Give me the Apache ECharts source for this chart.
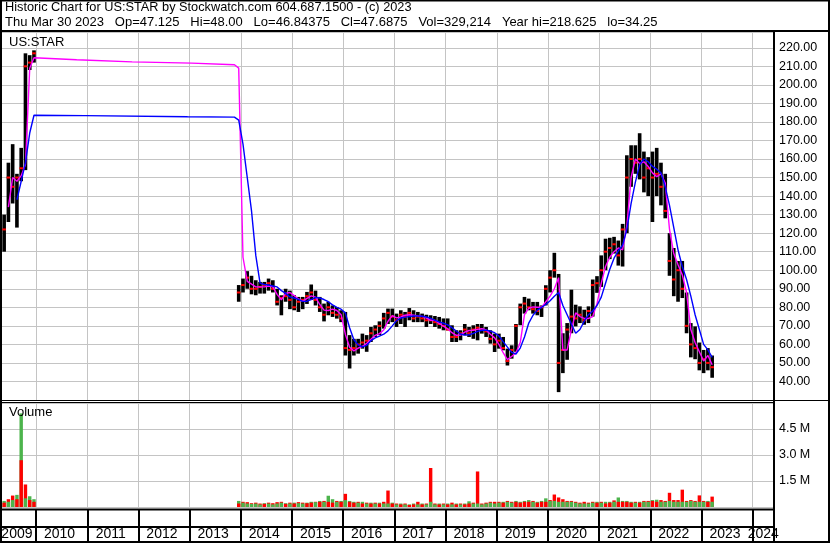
<!DOCTYPE html>
<html>
<head>
<meta charset="utf-8">
<title>Historic Chart for US:STAR</title>
<script src="https://cdn.jsdelivr.net/npm/echarts@6/dist/echarts.min.js"></script>
<style>
  html, body { margin: 0; padding: 0; background: #fff; }
  #chart { width: 830px; height: 543px; }
</style>
</head>
<body>
<div id="chart"></div>
<script>
// monthly price ranges
// first stretch of trading, May - Dec 2009
const lo09 = [110, 126, 136, 123, 148, 154, 208, 212]
const hi09 = [130, 158, 168, 152, 166, 217, 216, 218.6]
const cl09 = [122, 150, 145, 150, 155, 210, 212, 217]

// second stretch, Dec 2013 - Mar 2023
const lo = [
  83,
  88, 90, 87, 86.5, 87.4, 87.4, 89, 88, 81, 75.7, 83, 79,              // 2014
  78.4, 77.5, 79, 81.8, 84, 81, 77.5, 72.4, 75.7, 74.8, 73.9, 72,      // 2015
  54, 47, 54, 55, 57.7, 56, 61.3, 64, 65, 68.5, 71, 72,                // 2016
  69.4, 71, 69.4, 73, 72, 72, 72, 69.4, 71, 69.4, 68.5, 67.6,          // 2017
  67.6, 61.3, 61.3, 62.2, 64.9, 64, 63, 62.2, 65.8, 64, 60.4, 55.9,    // 2018
  57.7, 56.8, 48.6, 52.3, 56, 70.3, 76.6, 78.4, 76.6, 75.7, 74.8, 81,  // 2019
  88, 96, 34.25, 44.5, 51.7, 66, 69.7, 71.5, 70.6, 71.5, 75, 87.8,     // 2020
  91, 100, 106, 109, 102.5, 102, 120, 145, 152, 149, 142, 140,         // 2021
  126, 140, 135, 128, 97, 86, 83, 85, 66, 53, 52, 46,                  // 2022
  44.5, 46, 42                                                         // 2023
]
const hi = [
  92,
  95.5, 99.5, 97, 94.6, 93.7, 93.7, 95.5, 94.6, 90, 86.5, 90, 89,
  86.5, 85.6, 85.6, 88.3, 92.3, 89, 85.6, 82, 83, 81, 80.2, 78.4,
  77.5, 65, 63, 63, 65.8, 65, 69.4, 70.3, 72.4, 77, 79.3, 79.3,
  76.6, 78.4, 77.5, 79.6, 78.4, 77.5, 76.6, 76, 75.7, 75.3, 74.8, 74,
  74, 70.3, 67.6, 67.6, 71, 69.4, 70.3, 71, 71, 69.4, 67.6, 65.8,
  65.8, 64, 57.7, 59.5, 71, 82, 85.6, 84.7, 82.9, 82.9, 81, 91.9,
  100, 109.4, 98, 66, 71.5, 89.5, 81.4, 80.5, 78.7, 80.5, 95, 96.8,
  108, 117, 117.5, 118, 116, 125, 162, 167.4, 167.4, 173.9, 164, 161,
  164, 166, 158, 152, 120, 112, 105, 105, 88, 71.5, 69.7, 61,
  57, 58, 54
]
const cl = [
  88,
  92, 96, 90, 90, 91, 92, 93, 90, 83, 85, 86, 84,
  80, 83, 84, 86, 88, 84, 80, 76, 80, 77, 76, 74,
  58, 57, 58, 60, 61, 62, 66, 68, 70, 74, 77, 75,
  73, 76, 75, 77, 74, 75, 74, 73, 73, 72, 71, 70,
  68, 64, 64, 66, 68, 66, 68, 69, 68, 67, 63, 60,
  62, 58, 51, 57, 70, 80, 82, 80, 79, 78, 80, 90,
  96, 100, 50, 57, 68, 75, 74, 76, 73, 78, 92, 93,
  100, 110, 112, 114, 108, 122, 150, 160, 158, 160, 150, 155,
  150, 152, 145, 132, 105, 95, 100, 90, 70, 60, 58, 50,
  52, 50, 47.69
]

// moving averages (pink = short, blue = long)
const pink09 = [null, 134, 150, 148, 151, 157, 209, 214.6]
const blue09 = [null, null, null, 138, 148, 158, 174, 183.6]
const pinkGapMonths = ['2010-10', '2011-11', '2013-01', '2013-11']
const pinkGapVals = [213.5, 212.4, 211.7, 210.8]
const blueGapMonths = ['2010-12', '2012-12', '2013-11']
const blueGapVals = [183.4, 182.8, 182.6]
const pink = [
  209,
  107, 94, 92.5, 91, 91, 91, 91.5, 91, 87, 84, 87.5, 88,
  86.3, 84.5, 83.2, 84.8, 86.2, 85.5, 81.5, 78.5, 78.3, 79, 78.3, 76,
  65.5, 58.5, 56.5, 58, 59, 60.5, 62.8, 64.9, 65.8, 67.8, 72.5, 75.5,
  74.3, 74.8, 75.7, 76, 75.8, 75.4, 75.1, 74.2, 73, 73, 71.3, 69.8,
  68.4, 66.3, 64.9, 65, 66.6, 67.5, 67.6, 68.1, 68.5, 67.8, 65.5, 63.5,
  60, 55.5, 51.8, 53.5, 55.5, 61, 76, 79.5, 80.2, 80, 80, 83,
  86, 90, 96, 57, 57, 68, 77, 75, 74, 74, 75, 82,
  93, 102, 107, 110, 112, 111, 124, 150, 160, 157.5, 158.5, 156,
  152.5, 150.5, 152, 147, 122, 109, 103, 97.5, 88, 68, 61, 56,
  51, 54, 49
]
const blue = [
  181,
  168, 150, 132, 108, 93, 92.3, 92, 91.5, 91, 89, 87.5, 85.6,
  85, 84.3, 83.2, 83.3, 84.2, 85.3, 85, 84.2, 83, 81.3, 80, 79,
  77, 69, 62.5, 59.8, 58.7, 59.5, 62, 63.5, 64.5, 65.5, 67.3, 70,
  72.8, 74.2, 74.7, 75, 75.3, 75.3, 75.2, 74.8, 74, 73, 72.1, 71.4,
  70.5, 69, 67.2, 65.6, 65, 65.2, 65.9, 67, 67.6, 67.6, 67.2, 66.3,
  64.5, 61.5, 58.5, 55.7, 54.8, 58, 64, 71.5, 75.7, 78.5, 80, 81.5,
  83.5, 86, 88, 81, 76, 71, 66, 68, 72.5, 76, 78, 81,
  85.5, 93, 100.5, 106.5, 110.5, 113.5, 122, 136, 147.5, 157, 160, 158.5,
  156, 154.5, 152.5, 145, 135, 123, 111, 102, 95, 86, 76, 68,
  60, 57, 53
]

// volume in millions, up days (green) and down days (red) per month
const volUp09 = [0.35, 0.3, 0.4, 0.7, 5.4, 0.5, 0.62, 0.45]
const volDn09 = [0.25, 0.45, 0.66, 0.45, 2.7, 1.3, 0.4, 0.3]
const volUp = [
  0.35,
  .25, .2, .18, .2, .15, .22, .2, .15, .2, .25, .22, .2,
  .25, .22, .2, .25, .3, .28, .35, .3, .65, .45, .3, .35,
  .4, .35, .3, .25, .3, .2, .25, .2, .25, .2, .2, .25,
  .15, .2, .15, .15, .2, .15, .2, .15, .3, .15, .2, .15,
  .2, .15, .2, .15, .2, .33, .2, .2, .15, .2, .25, .2,
  .25, .3, .3, .25, .35, .3, .35, .4, .3, .3, .35, .5,
  .35, .35, .3, .3, .3, .3, .25, .2, .2, .2, .25, .3,
  .25, .3, .3, .3, .55, .35, .35, .3, .25, .3, .3, .3,
  .4, .42, .3, .3, .35, .3, .3, .3, .3, .35, .3, .3,
  .3, .35, .3
]
const volDn = [
  0.2,
  .3, .28, .22, .25, .2, .18, .25, .22, .28, .3, .18, .25,
  .2, .28, .25, .22, .25, .3, .3, .35, .3, .25, .35, .3,
  .76, .3, .25, .3, .2, .25, .2, .25, .2, .3, .95, .2,
  .2, .15, .2, .12, .15, .3, .15, .2, 2.25, .2, .15, .2,
  .15, .25, .15, .2, .15, .2, .25, 2.05, .2, .25, .3, .3,
  .3, .25, .35, .3, .3, .25, .3, .3, .35, .25, .3, .3,
  .4, .72, .55, .45, .35, .35, .3, .25, .3, .25, .3, .25,
  .3, .2, .25, .38, .3, .3, .3, .25, .3, .25, .35, .35,
  .35, .3, .4, .35, .82, .4, .4, 1.0, .35, .4, .35, .67,
  .35, .3, .6
]

const titleLine1 = 'Historic Chart for US:STAR by Stockwatch.com 604.687.1500 - (c) 2023'
const titleLine2 = 'Thu Mar 30 2023   Op=47.125   Hi=48.00   Lo=46.84375   Cl=47.6875   Vol=329,214   Year hi=218.625   lo=34.25'

// months May 2009 .. May 2024
const months = []
for (let y = 2009, m = 5; months.length < 181; m++) {
  if (m > 12) { m = 1; y++ }
  months.push(y + '-' + (m < 10 ? '0' : '') + m)
}
// where each year label sits (first and last year are cut by the frame)
const labelMonths = ['2009-08', '2010-06', '2011-06', '2012-06', '2013-06', '2014-06', '2015-06',
  '2016-06', '2017-06', '2018-06', '2019-06', '2020-06', '2021-06', '2022-06', '2023-06', '2024-03']

const empty = () => months.map(() => '-')
function place(arr, first, values) {
  const i0 = months.indexOf(first)
  values.forEach((v, k) => { if (v != null) arr[i0 + k] = v })
  return arr
}

const barData = []
function addBars(first, l, h, c) {
  const i0 = months.indexOf(first)
  l.forEach((v, k) => barData.push([i0 + k, v, h[k], c[k]]))
}
addBars('2009-05', lo09, hi09, cl09)
addBars('2013-12', lo, hi, cl)

const pinkData = empty()
place(pinkData, '2009-05', pink09)
pinkGapMonths.forEach((m, k) => place(pinkData, m, [pinkGapVals[k]]))
place(pinkData, '2013-12', pink)

const blueData = empty()
place(blueData, '2009-05', blue09)
blueGapMonths.forEach((m, k) => place(blueData, m, [blueGapVals[k]]))
place(blueData, '2013-12', blue)

const volData = []
function addVol(first, up, dn) {
  const i0 = months.indexOf(first)
  up.forEach((v, k) => volData.push([i0 + k, v, dn[k]]))
}
addVol('2009-05', volUp09, volDn09)
addVol('2013-12', volUp, volDn)

const FONT = '"Liberation Sans", Arial, sans-serif'
const GRID = '#c4c4c4'
const GREEN = '#4cb44c'
const isJan = (i, v) => v.slice(5) === '01'

function renderBar(params, api) {
  const top = api.coord([api.value(0), api.value(2)])
  const bot = api.coord([api.value(0), api.value(1)])
  const c = api.coord([api.value(0), api.value(3)])
  const w = api.size([1, 0])[0] * 0.85
  return {
    type: 'group',
    children: [
      { type: 'rect', shape: { x: top[0] - w / 2, y: top[1], width: w, height: Math.max(1, bot[1] - top[1]) }, style: { fill: '#000' } },
      { type: 'rect', shape: { x: c[0] - w / 2, y: c[1] - 1, width: w, height: 2 }, style: { fill: '#ff0000' } }
    ]
  }
}

// taller of the two volumes drawn first, shorter one on top
function renderVol(params, api) {
  const i = api.value(0)
  const base = api.coord([i, 0])
  const w = api.size([1, 0])[0] * 0.8
  const bars = [
    { v: api.value(1), color: GREEN },
    { v: api.value(2), color: '#ff0000' }
  ].sort((a, b) => b.v - a.v)
  return {
    type: 'group',
    children: bars.map(b => {
      const p = api.coord([i, b.v])
      return { type: 'rect', shape: { x: base[0] - w / 2, y: p[1], width: w, height: base[1] - p[1] }, style: { fill: b.color } }
    })
  }
}

function hline(y, x1, x2, w) {
  return { type: 'line', z: 100, shape: { x1: x1, y1: y, x2: x2, y2: y }, style: { stroke: '#000', lineWidth: w } }
}
function vline(x, y1, y2, w) {
  return { type: 'line', z: 100, shape: { x1: x, y1: y1, x2: x, y2: y2 }, style: { stroke: '#000', lineWidth: w } }
}

let chart = echarts.init(document.getElementById('chart'))

let option = {
  animation: false,
  backgroundColor: '#fff',
  grid: [
    { left: 2, top: 32, width: 772, height: 368, outerBoundsMode: 'none' },
    { left: 2, top: 403, width: 772, height: 104, outerBoundsMode: 'none' },
    { left: 2, top: 510, width: 772, height: 17, outerBoundsMode: 'none' }
  ],
  xAxis: [
    {
      type: 'category', gridIndex: 0, data: months, boundaryGap: true,
      axisLine: { show: false }, axisTick: { show: false }, axisLabel: { show: false },
      splitLine: { show: true, interval: isJan, lineStyle: { color: GRID, width: 1 } }
    },
    {
      type: 'category', gridIndex: 1, data: months, boundaryGap: true,
      axisLine: { show: false }, axisTick: { show: false }, axisLabel: { show: false },
      splitLine: { show: true, interval: isJan, lineStyle: { color: GRID, width: 1 } }
    },
    {
      type: 'category', gridIndex: 2, data: months, boundaryGap: true, position: 'bottom',
      axisLine: { show: false },
      axisTick: { show: true, interval: isJan, length: 14, inside: false, lineStyle: { color: '#000', width: 2 } },
      splitLine: { show: true, interval: isJan, lineStyle: { color: '#000', width: 2 } },
      axisLabel: {
        show: true, margin: 0,
        interval: (i, v) => labelMonths.indexOf(v) >= 0,
        formatter: v => v.slice(0, 4),
        color: '#000', fontFamily: FONT, fontSize: 14
      }
    }
  ],
  yAxis: [
    {
      type: 'value', gridIndex: 0, position: 'right', min: 30, max: 228.5, interval: 10,
      axisLine: { show: false }, axisTick: { show: false },
      splitLine: { show: true, lineStyle: { color: GRID, width: 1 } },
      axisLabel: {
        margin: 5, color: '#000', fontFamily: FONT, fontSize: 12.5,
        formatter: v => (v < 35 || v > 225) ? '' : v.toFixed(2)
      }
    },
    {
      type: 'value', gridIndex: 1, position: 'right', min: 0, max: 6, interval: 1.5,
      axisLine: { show: false }, axisTick: { show: false },
      splitLine: { show: true, lineStyle: { color: GRID, width: 1 } },
      axisLabel: {
        margin: 5, color: '#000', fontFamily: FONT, fontSize: 12.5,
        formatter: v => (v <= 0 || v > 5) ? '' : v.toFixed(1) + ' M'
      }
    },
    { type: 'value', gridIndex: 2, show: false, min: 0, max: 1 }
  ],
  series: [
    {
      name: 'price', type: 'custom', xAxisIndex: 0, yAxisIndex: 0,
      renderItem: renderBar, data: barData, clip: true,
      encode: { x: 0, y: [1, 2, 3] }
    },
    {
      name: 'pink', type: 'line', xAxisIndex: 0, yAxisIndex: 0, data: pinkData,
      connectNulls: true, showSymbol: false, symbol: 'none',
      lineStyle: { color: '#ff00ff', width: 1.4 }
    },
    {
      name: 'blue', type: 'line', xAxisIndex: 0, yAxisIndex: 0, data: blueData,
      connectNulls: true, showSymbol: false, symbol: 'none',
      lineStyle: { color: '#0000ff', width: 1.4 }
    },
    {
      name: 'volume', type: 'custom', xAxisIndex: 1, yAxisIndex: 1,
      renderItem: renderVol, data: volData, clip: true,
      encode: { x: 0, y: [1, 2] }
    }
  ],
  graphic: [
    { type: 'text', left: 5, top: 1, z: 100, style: { text: titleLine1, font: '12.75px ' + FONT, fill: '#000' } },
    { type: 'text', left: 5, top: 16, z: 100, style: { text: titleLine2, font: '13px ' + FONT, fill: '#000' } },
    { type: 'text', left: 9, top: 36, z: 100, style: { text: 'US:STAR', font: '13px ' + FONT, fill: '#000' } },
    { type: 'text', left: 9, top: 406, z: 100, style: { text: 'Volume', font: '13px ' + FONT, fill: '#000' } },
    hline(31, 0, 830, 2),
    hline(400.5, 0, 830, 1),
    hline(402.5, 0, 774, 1),
    hline(509.5, 0, 774, 2),
    hline(527, 0, 774, 2),
    vline(774, 31, 543, 2),
    { type: 'rect', z: 100, shape: { x: 1, y: 0.5, width: 828, height: 541.5 }, style: { fill: 'none', stroke: '#000', lineWidth: 2 } }
  ]
}
chart.setOption(option)
</script>
</body>
</html>
